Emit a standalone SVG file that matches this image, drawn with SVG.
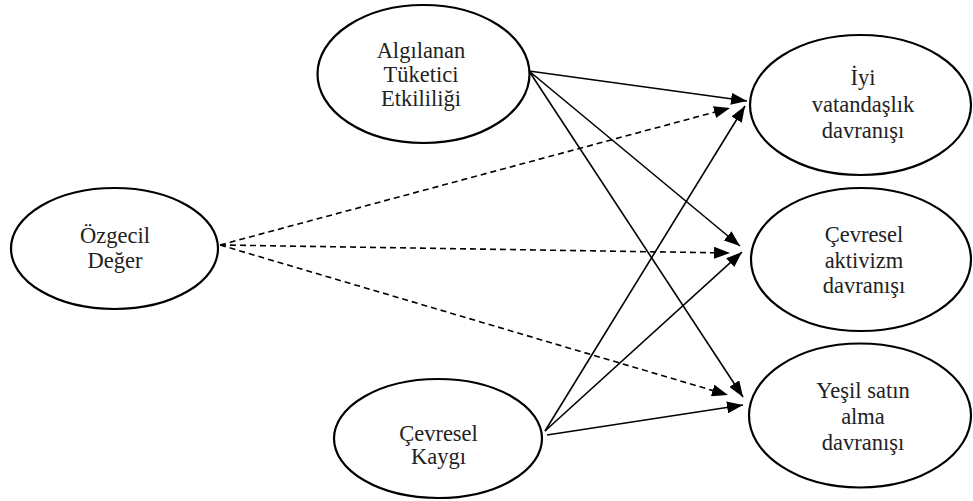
<svg xmlns="http://www.w3.org/2000/svg" width="973" height="501" viewBox="0 0 973 501">
<defs>
<marker id="arr" markerUnits="userSpaceOnUse" markerWidth="16" markerHeight="12" refX="16" refY="6" orient="auto">
<path d="M0,0 L16,6 L0,12 Z" fill="#000"/>
</marker>
<style>
.node ellipse{fill:#fff;stroke:#000;stroke-width:2.2}
.c line{stroke:#000;stroke-width:1.6;fill:none;marker-end:url(#arr)}
.c line.d{stroke-dasharray:6 4}
</style>
</defs>
<rect width="973" height="501" fill="#fff"/>
<g class="c" id="connectors">
<line x1="529" y1="71" x2="747" y2="101"/>
<line x1="529" y1="71" x2="740" y2="246"/>
<line x1="529" y1="71" x2="743" y2="397"/>
<line class="d" x1="220" y1="245" x2="730" y2="108"/>
<line class="d" x1="220" y1="245" x2="730" y2="253"/>
<line class="d" x1="220" y1="245" x2="728" y2="395"/>
<line x1="545" y1="431" x2="745" y2="106"/>
<line x1="545" y1="431" x2="742" y2="252"/>
<line x1="547" y1="435" x2="743" y2="405"/>
</g>
<g font-family="Liberation Serif, Times New Roman, serif" font-size="22.5" fill="#222" text-anchor="middle">
<g class="node" id="n_algilanan">
<ellipse cx="423.5" cy="74" rx="106" ry="69"/>
<text x="421" y="58">Algılanan</text>
<text x="421" y="82">Tüketici</text>
<text x="421" y="106">Etkililiği</text>
</g>
<g class="node" id="n_ozgecil">
<ellipse cx="114.5" cy="248.5" rx="103.5" ry="60.5"/>
<text x="115" y="243">Özgecil</text>
<text x="115" y="268">Değer</text>
</g>
<g class="node" id="n_kaygi">
<ellipse cx="438" cy="438.5" rx="104" ry="59.5"/>
<text x="438.5" y="441">Çevresel</text>
<text x="438.5" y="464">Kaygı</text>
</g>
<g class="node" id="n_iyi">
<ellipse cx="860.5" cy="105" rx="110.5" ry="70"/>
<text x="863" y="85">İyi</text>
<text x="863" y="112">vatandaşlık</text>
<text x="863" y="138">davranışı</text>
</g>
<g class="node" id="n_aktivizm">
<ellipse cx="861" cy="259.5" rx="110" ry="71.5"/>
<text x="864" y="242">Çevresel</text>
<text x="864" y="268">aktivizm</text>
<text x="864" y="293">davranışı</text>
</g>
<g class="node" id="n_yesil">
<ellipse cx="860" cy="415.5" rx="111" ry="72"/>
<text x="863" y="398">Yeşil satın</text>
<text x="863" y="424">alma</text>
<text x="863" y="450">davranışı</text>
</g>
</g>
</svg>
